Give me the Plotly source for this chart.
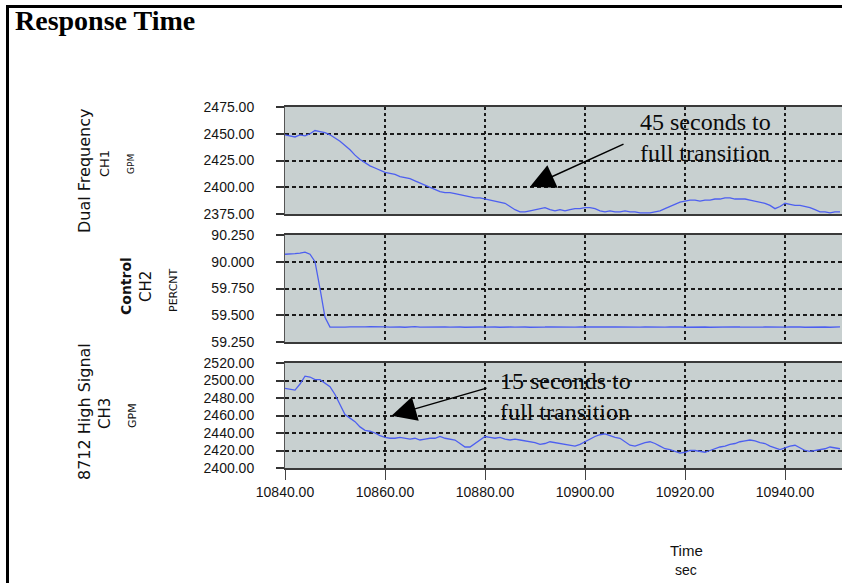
import plotly.graph_objects as go

# ---------------- data ----------------
time_s = list(range(10840, 10952))  # one sample per second

ch1_gpm = [
    2449, 2448, 2447, 2449, 2448, 2450, 2453, 2452, 2451, 2449,
    2446, 2443, 2439, 2435, 2430, 2426, 2423, 2420, 2418, 2416,
    2414, 2413, 2412, 2410, 2409, 2408, 2406, 2404, 2402, 2400,
    2398, 2396, 2395, 2395, 2394, 2393, 2392, 2391, 2390, 2390,
    2389, 2388, 2387, 2386, 2385, 2382, 2379, 2377, 2377, 2378,
    2379, 2380, 2381, 2379, 2378, 2379, 2378, 2379, 2380, 2380,
    2381, 2381, 2380, 2378, 2377, 2378, 2377, 2377, 2378, 2377,
    2377, 2376, 2376, 2376, 2377, 2378, 2380, 2382, 2384, 2386,
    2387, 2388, 2388, 2387, 2388, 2388, 2389, 2389, 2390, 2390,
    2389, 2389, 2389, 2388, 2387, 2386, 2385, 2383, 2380, 2382,
    2385, 2384, 2383, 2383, 2382, 2381, 2379, 2377, 2377, 2376,
    2377, 2377,
]

ch2_percent = [
    60.07, 60.07, 60.075, 60.08, 60.09, 60.07, 60.00, 59.75, 59.48, 59.39,
    59.388, 59.391, 59.389, 59.392, 59.390, 59.387, 59.391, 59.393, 59.390, 59.388,
    59.391, 59.389, 59.392, 59.390, 59.388, 59.391, 59.393, 59.389, 59.390, 59.392,
    59.388, 59.390, 59.391, 59.389, 59.392, 59.390, 59.388, 59.391, 59.393, 59.390,
    59.389, 59.391, 59.390, 59.388, 59.392, 59.390, 59.389, 59.391, 59.390, 59.388,
    59.391, 59.389, 59.390, 59.392, 59.390, 59.388, 59.391, 59.390, 59.389, 59.391,
    59.390, 59.388, 59.390, 59.391, 59.389, 59.390, 59.392, 59.390, 59.388, 59.390,
    59.391, 59.389, 59.390, 59.388, 59.390, 59.391, 59.389, 59.390, 59.392, 59.390,
    59.388, 59.390, 59.391, 59.389, 59.390, 59.388, 59.390, 59.391, 59.389, 59.390,
    59.392, 59.390, 59.388, 59.390, 59.391, 59.389, 59.390, 59.388, 59.390, 59.391,
    59.389, 59.390, 59.392, 59.390, 59.388, 59.390, 59.391, 59.389, 59.390, 59.388,
    59.390, 59.391,
]

ch3_gpm = [
    2491, 2490, 2489, 2496, 2505, 2504, 2501, 2501, 2497, 2493,
    2484, 2472, 2461, 2457, 2453, 2447, 2443, 2442, 2440, 2437,
    2435, 2434, 2434, 2435, 2434, 2433, 2434, 2432, 2433, 2434,
    2434, 2436, 2434, 2433, 2432, 2428, 2424, 2424, 2428, 2432,
    2436, 2435, 2434, 2435, 2433, 2432, 2433, 2432, 2431, 2430,
    2429, 2427, 2428, 2430, 2429, 2428, 2427, 2426, 2425, 2427,
    2430, 2433, 2436, 2438, 2439, 2437, 2435, 2434, 2430, 2426,
    2425, 2427, 2429, 2430, 2428, 2425, 2422, 2421, 2419, 2417,
    2418, 2420, 2420, 2419, 2418, 2420, 2422, 2424, 2425, 2427,
    2428, 2430, 2431, 2432, 2431, 2429, 2428, 2425, 2423, 2421,
    2423, 2425, 2426, 2423, 2420, 2419, 2420, 2421, 2422, 2424,
    2423, 2422,
]

x_ticks = [10840, 10860, 10880, 10900, 10920, 10940]
x_ticktext = ["10840.00", "10860.00", "10880.00", "10900.00", "10920.00", "10940.00"]
ch1_ticks = [2375, 2400, 2425, 2450, 2475]
ch1_ticktext = ["2375.00", "2400.00", "2425.00", "2450.00", "2475.00"]
ch2_ticks = [59.25, 59.5, 59.75, 60.0, 60.25]
ch2_ticktext = ["59.250", "59.500", "59.750", "90.000", "90.250"]
ch3_ticks = [2400, 2420, 2440, 2460, 2480, 2500, 2520]
ch3_ticktext = ["2400.00", "2420.00", "2440.00", "2460.00", "2480.00", "2500.00", "2520.00"]

# ---------------- geometry helpers ----------------
W, H = 842, 583
def px(x):
    return x / W
def py(y):
    return 1 - y / H

LINE = "#4d5ff0"
BG = "#c8d0d0"
GRID = "#1a1a1a"
TICKFONT = dict(family="Liberation Sans", size=14, color="#141414")

fig = go.Figure()
fig.add_trace(go.Scatter(x=time_s, y=ch1_gpm, mode="lines", line=dict(color=LINE, width=1.3),
                         xaxis="x", yaxis="y", showlegend=False))
fig.add_trace(go.Scatter(x=time_s, y=ch2_percent, mode="lines", line=dict(color=LINE, width=1.3),
                         xaxis="x2", yaxis="y2", showlegend=False))
fig.add_trace(go.Scatter(x=time_s, y=ch3_gpm, mode="lines", line=dict(color=LINE, width=1.3),
                         xaxis="x3", yaxis="y3", showlegend=False))

xrange = [10840, 10951.4]
xdom = [px(285), 1.0]

def xaxis(anchor, labels):
    d = dict(domain=xdom, range=xrange, anchor=anchor, tickvals=x_ticks,
             showgrid=True, gridcolor=GRID, gridwidth=1.5, griddash="3px,3px",
             showline=True, mirror=True, linecolor="#3a3a3a", linewidth=2.4,
             zeroline=False, fixedrange=True, automargin=False)
    if labels:
        d.update(ticks="outside", ticklen=10, tickcolor="#444", tickwidth=1.3,
                 ticktext=x_ticktext, showticklabels=True, tickfont=TICKFONT)
    else:
        d.update(ticks="", showticklabels=False)
    return d

def yaxis(anchor, top, bottom, rng, tv, tt):
    return dict(domain=[py(bottom), py(top)], range=rng, anchor=anchor,
                tickvals=tv, ticktext=tt, ticks="outside", ticklen=8,
                tickcolor="#333", tickwidth=1.6, tickfont=TICKFONT,
                ticklabelstandoff=19,
                showgrid=True, gridcolor=GRID, gridwidth=1.6, griddash="4px,3px",
                showline=True, mirror=False, linecolor="#555", linewidth=1,
                zeroline=False, fixedrange=True, automargin=False)

annotations = []
def ann(text, x, y, size, family="DejaVu Sans", bold=False, angle=0, color="#111", **kw):
    t = f"<b>{text}</b>" if bold else text
    d = dict(text=t, x=px(x), y=py(y), xref="paper", yref="paper",
             showarrow=False, textangle=angle,
             font=dict(family=family, size=size, color=color),
             xanchor="center", yanchor="middle")
    d.update(kw)
    annotations.append(d)

# title
ann("Response Time", 13, 20, 28, family="Liberation Serif", bold=True, color="#000",
    xanchor="left")

# left labels
ann("Dual Frequency", 84, 171, 16, angle=-90)
ann("CH1", 104, 164, 13, angle=-90)
ann("GPM", 131, 164, 9, angle=-90)
ann("Control", 126, 286, 14, bold=True, angle=-90)
ann("CH2", 146, 287, 15, angle=-90)
ann("PERCNT", 173, 290, 11, angle=-90)
ann("8712 High Signal", 84, 412, 16, angle=-90)
ann("CH3", 105, 414, 15, angle=-90)
ann("GPM", 132, 416, 11, angle=-90)

# time axis label
ann("Time", 686, 550, 15, family="Liberation Sans")
ann("sec", 686, 570, 14, family="Liberation Sans")

# callouts
ann("45 seconds to<br>full transition", 705, 137, 24, family="Liberation Serif",
    color="#0a0a0a", align="left")
ann("15 seconds to<br>full transition", 565, 396, 24, family="Liberation Serif",
    color="#0a0a0a", align="left")

annotations.append(dict(x=10889, y=2400.5, xref="x", yref="y", ax=10908, ay=2441,
                        axref="x", ayref="y", text="", showarrow=True, arrowhead=2,
                        arrowsize=3.3, arrowwidth=1.5, arrowcolor="#000", standoff=0))
annotations.append(dict(x=10861.3, y=2459.8, xref="x3", yref="y3", ax=10880.6, ay=2491.8,
                        axref="x3", ayref="y3", text="", showarrow=True, arrowhead=2,
                        arrowsize=3.3, arrowwidth=1.5, arrowcolor="#000", standoff=0))

shapes = [
    dict(type="line", xref="paper", yref="paper", x0=px(7.5), x1=px(7.5), y0=0, y1=py(5),
         line=dict(color="#000", width=3)),
    dict(type="line", xref="paper", yref="paper", x0=px(6), x1=1.0, y0=py(6.5), y1=py(6.5),
         line=dict(color="#000", width=3)),
]

fig.update_layout(
    width=W, height=H, margin=dict(l=0, r=0, t=0, b=0, pad=0, autoexpand=False),
    paper_bgcolor="white", plot_bgcolor=BG,
    xaxis=xaxis("y", False),
    xaxis2=xaxis("y2", False),
    xaxis3=xaxis("y3", True),
    yaxis=yaxis("x", 107, 214, [2375, 2475], ch1_ticks, ch1_ticktext),
    yaxis2=yaxis("x2", 235, 342, [59.25, 60.25], ch2_ticks, ch2_ticktext),
    yaxis3=yaxis("x3", 363, 468, [2400, 2520], ch3_ticks, ch3_ticktext),
    annotations=annotations, shapes=shapes,
)

fig.write_html("out.html", config={"displayModeBar": False},
               post_script="document.body.style.margin='0';")
